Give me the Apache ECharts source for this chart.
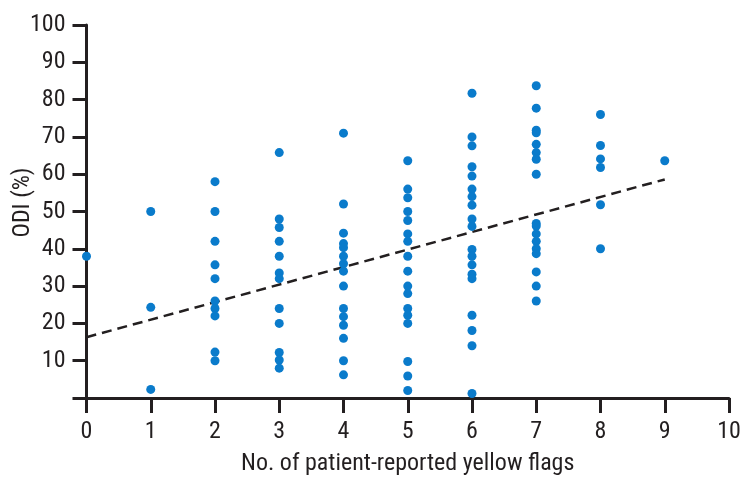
<!DOCTYPE html>
<html>
<head>
<meta charset="utf-8">
<style>html,body{margin:0;padding:0;background:#fff}#c{width:752px;height:488px}</style>
<script src="https://cdn.jsdelivr.net/npm/echarts@6/dist/echarts.min.js"></script>
</head>
<body>
<div id="c"></div>
<script>
// Data
const flags0 = [38];
const flags1 = [50, 24.3, 2.3];
const flags2 = [58, 50, 42, 35.7, 32, 26, 24, 22, 12.3, 10];
const flags3 = [65.8, 48, 45.7, 42, 38, 33.5, 32, 24, 20, 12.2, 10.2, 8];
const flags4 = [71, 52, 44.2, 41.4, 40.3, 38, 36, 34, 30, 24, 21.8, 19.5, 16, 10, 6.2];
const flags5 = [63.6, 56, 53.7, 50, 47.6, 44, 42, 38, 34, 30, 28, 24, 22.2, 20, 9.8, 5.9, 2];
const flags6 = [81.7, 70, 67.6, 62, 59.5, 56, 54, 51.7, 48, 46, 39.8, 38, 35.7, 33.2, 32, 22.2, 18.1, 14, 1.2];
const flags7 = [83.7, 77.7, 71.8, 71.1, 68, 65.8, 64, 60, 46.8, 46.1, 44, 42, 40, 38.7, 33.8, 30, 26];
const flags8 = [76, 67.7, 64.1, 61.8, 51.8, 40];
const flags9 = [63.6];
const columns = [flags0, flags1, flags2, flags3, flags4, flags5, flags6, flags7, flags8, flags9];
const trendX = [0, 9];
const trendY = [16.3, 58.6];
const xTicks = [0,1,2,3,4,5,6,7,8,9,10];
const yTicks = [10,20,30,40,50,60,70,80,90,100];

const points = [];
columns.forEach((vals, x) => vals.forEach(v => points.push([x, v])));
const trend = trendX.map((x, i) => [x, trendY[i]]);

const FONT = "'Liberation Sans Narrow', 'Roboto Condensed', 'Liberation Sans', sans-serif";
const INK = '#231f20';

const chart = echarts.init(document.getElementById('c'), null, {renderer: 'canvas'});
chart.setOption({
  animation: false,
  grid: {left: 86.5, right: 23, top: 25, bottom: 90, containLabel: false, outerBoundsMode: 'none'},
  xAxis: {
    type: 'value', min: 0, max: 10, interval: 1,
    name: 'No. of patient-reported yellow flags',
    nameLocation: 'middle', nameGap: 54, nameMoveOverlap: false,
    nameTextStyle: {fontFamily: FONT, fontSize: 24, color: '#231f20'},
    axisLine: {show: true, onZero: false, lineStyle: {color: INK, width: 3}},
    axisTick: {show: true, length: 15, lineStyle: {color: INK, width: 3}},
    axisLabel: {fontFamily: FONT, fontSize: 24, color: '#231f20', margin: 22,
      formatter: v => xTicks.includes(v) ? String(v) : ''},
    splitLine: {show: false}
  },
  yAxis: {
    type: 'value', min: 0, max: 100, interval: 10,
    name: 'ODI (%)',
    nameLocation: 'middle', nameGap: 52, nameMoveOverlap: false,
    nameTextStyle: {fontFamily: FONT, fontSize: 24, color: '#231f20', padding: [0, 0, 0, 18]},
    axisLine: {show: true, onZero: false, lineStyle: {color: INK, width: 3}},
    axisTick: {show: true, length: 14, lineStyle: {color: INK, width: 3}},
    axisLabel: {fontFamily: FONT, fontSize: 24, color: '#231f20', margin: 21,
      formatter: v => yTicks.includes(v) ? String(v) : ''},
    splitLine: {show: false}
  },
  series: [
    {
      type: 'scatter', data: points, symbolSize: 9,
      itemStyle: {color: '#0a7bcb', opacity: 1}, z: 3
    },
    {
      type: 'line', data: trend, symbol: 'none',
      lineStyle: {color: INK, width: 2.5, type: [10, 6]}, z: 2
    }
  ]
});
</script>
</body>
</html>
